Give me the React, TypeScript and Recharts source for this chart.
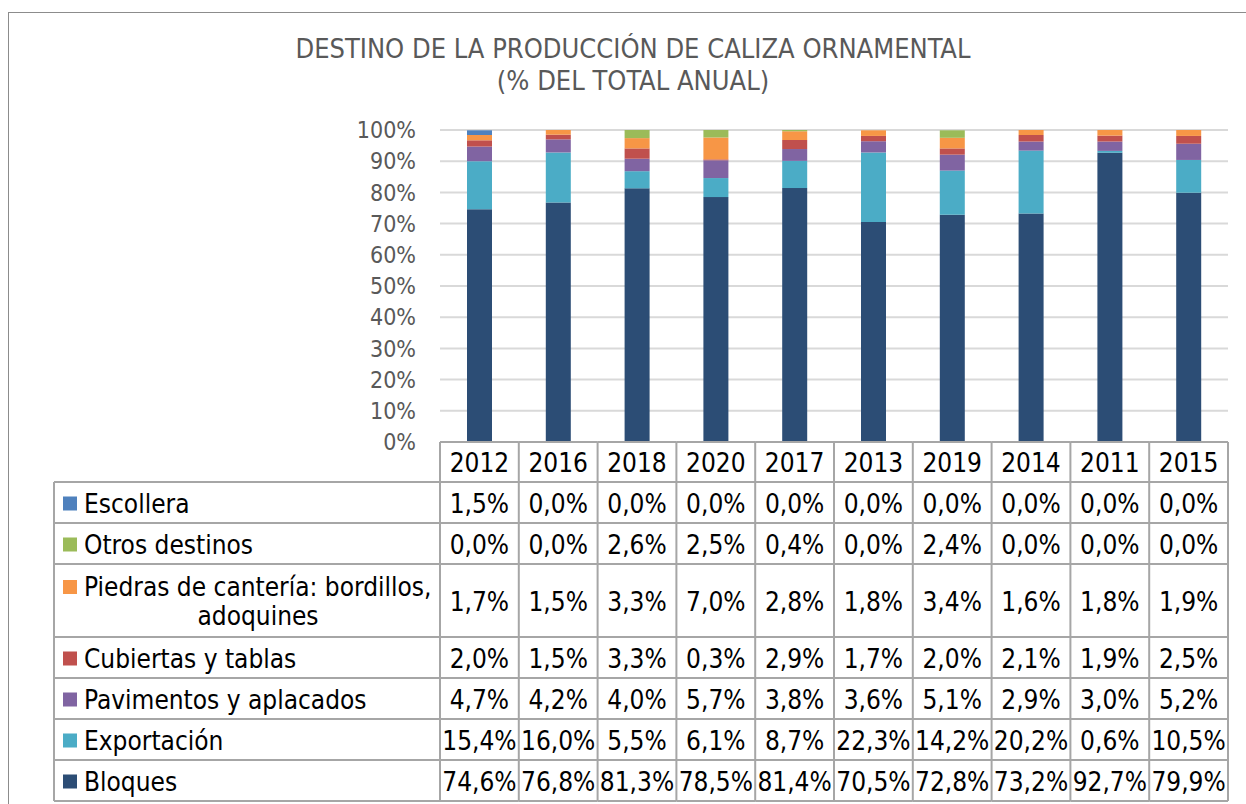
import React from 'react';
import { BarChart, Bar, XAxis, YAxis, CartesianGrid } from 'recharts';

const years = ['2012', '2016', '2018', '2020', '2017', '2013', '2019', '2014', '2011', '2015'];
const bloques = [74.6, 76.8, 81.3, 78.5, 81.4, 70.5, 72.8, 73.2, 92.7, 79.9];
const exportacion = [15.4, 16.0, 5.5, 6.1, 8.7, 22.3, 14.2, 20.2, 0.6, 10.5];
const pavimentos = [4.7, 4.2, 4.0, 5.7, 3.8, 3.6, 5.1, 2.9, 3.0, 5.2];
const cubiertas = [2.0, 1.5, 3.3, 0.3, 2.9, 1.7, 2.0, 2.1, 1.9, 2.5];
const piedras = [1.7, 1.5, 3.3, 7.0, 2.8, 1.8, 3.4, 1.6, 1.8, 1.9];
const otros = [0.0, 0.0, 2.6, 2.5, 0.4, 0.0, 2.4, 0.0, 0.0, 0.0];
const escollera = [1.5, 0.0, 0.0, 0.0, 0.0, 0.0, 0.0, 0.0, 0.0, 0.0];
const yTicks = [0, 10, 20, 30, 40, 50, 60, 70, 80, 90, 100];

// stack order, bottom to top
const series = [
  { key: 'bloques', name: 'Bloques', color: '#2c4d75', values: bloques },
  { key: 'exportacion', name: 'Exportación', color: '#4bacc6', values: exportacion },
  { key: 'pavimentos', name: 'Pavimentos y aplacados', color: '#8064a2', values: pavimentos },
  { key: 'cubiertas', name: 'Cubiertas y tablas', color: '#c0504d', values: cubiertas },
  { key: 'piedras', name: ['Piedras de cantería: bordillos,', 'adoquines'], color: '#f79646', values: piedras },
  { key: 'otros', name: 'Otros destinos', color: '#9bbb59', values: otros },
  { key: 'escollera', name: 'Escollera', color: '#4f81bd', values: escollera },
];

const data = years.map((year, i) => {
  const row: any = { year };
  series.forEach((s) => { row[s.key] = s.values[i]; });
  return row;
});

const FONT = '"DejaVu Sans Condensed", "Liberation Sans Narrow", "DejaVu Sans", sans-serif';
const W = 1246;
const H = 804;
const PLOT_LEFT = 440;
const PLOT_RIGHT = 1228;
const PLOT_TOP = 130;
const AXIS_TOP = 442;
const COL_W = (PLOT_RIGHT - PLOT_LEFT) / years.length;
const LEGEND_LEFT = 54;
const HEADER_H = 40;
const ROW_H = [41, 41, 73, 41, 41, 41, 41];
const LINE = '#a6a6a6';
const TFS = 26;

const tableRows = [...series].reverse();
const fmt = (v: number) => v.toFixed(1).replace('.', ',') + '%';

function TableColumn(props: any) {
  const { x, y, payload, index } = props;
  const left = x - COL_W / 2;
  const right = x + COL_W / 2;
  const tops: number[] = [];
  let acc = HEADER_H;
  ROW_H.forEach((h) => { tops.push(acc); acc += h; });
  const bottom = acc;
  const els: React.ReactNode[] = [];

  // header cell
  els.push(<line key="h0" x1={left} x2={right} y1={y} y2={y} stroke={LINE} strokeWidth={2} />);
  els.push(
    <text key="yr" x={x} y={y + HEADER_H / 2 + 1} textAnchor="middle" dominantBaseline="central"
      fontSize={TFS} fill="#000" fontFamily={FONT}>{payload.value}</text>
  );
  els.push(<line key="vl" x1={left} x2={left} y1={y} y2={y + bottom} stroke={LINE} strokeWidth={2} />);
  if (index === years.length - 1) {
    els.push(<line key="vr" x1={right} x2={right} y1={y} y2={y + bottom} stroke={LINE} strokeWidth={2} />);
  }
  tableRows.forEach((s, r) => {
    const t = y + tops[r];
    els.push(<line key={'hl' + r} x1={left} x2={right} y1={t} y2={t} stroke={LINE} strokeWidth={2} />);
    els.push(
      <text key={'v' + r} x={x} y={t + ROW_H[r] / 2 + 1} textAnchor="middle" dominantBaseline="central"
        fontSize={TFS} fill="#000" fontFamily={FONT}>{fmt(s.values[index])}</text>
    );
  });
  els.push(<line key="hb" x1={left} x2={right} y1={y + bottom} y2={y + bottom} stroke={LINE} strokeWidth={2} />);

  // legend column next to the first data column
  if (index === 0) {
    const lx = LEGEND_LEFT;
    els.push(<line key="lvl" x1={lx} x2={lx} y1={y + HEADER_H} y2={y + bottom} stroke={LINE} strokeWidth={2} />);
    tableRows.forEach((s, r) => {
      const t = y + tops[r];
      const mid = t + ROW_H[r] / 2 + 1;
      els.push(<line key={'lhl' + r} x1={lx} x2={left} y1={t} y2={t} stroke={LINE} strokeWidth={2} />);
      els.push(<rect key={'sq' + r} x={63} y={Array.isArray(s.name) ? t + 16 : mid - 7} width={14} height={14} fill={s.color} />);
      if (Array.isArray(s.name)) {
        els.push(
          <text key={'ln' + r} x={84} y={t + 23} dominantBaseline="central" fontSize={TFS} fill="#000" fontFamily={FONT}>{s.name[0]}</text>
        );
        els.push(
          <text key={'ln2' + r} x={258} y={t + 52} textAnchor="middle" dominantBaseline="central" fontSize={TFS} fill="#000" fontFamily={FONT}>{s.name[1]}</text>
        );
      } else {
        els.push(
          <text key={'ln' + r} x={84} y={mid} dominantBaseline="central" fontSize={TFS} fill="#000" fontFamily={FONT}>{s.name}</text>
        );
      }
    });
    els.push(<line key="lhb" x1={lx} x2={left} y1={y + bottom} y2={y + bottom} stroke={LINE} strokeWidth={2} />);
  }
  return <g>{els}</g>;
}

export default function App() {
  return (
    <div style={{ position: 'fixed', left: 0, top: 0, width: W, height: H, overflow: 'hidden', background: '#fff', fontFamily: FONT }}>
      <div style={{ position: 'absolute', left: 8, top: 12, width: 1400, height: 1000, borderLeft: '1px solid #8c8c8c', borderTop: '1px solid #8c8c8c' }} />
      <div style={{ position: 'absolute', left: 0, top: 33, width: 1266, textAlign: 'center', color: '#595959', fontSize: 27, lineHeight: '32px' }}>
        <div>DESTINO DE LA PRODUCCIÓN DE CALIZA ORNAMENTAL</div>
        <div>(% DEL TOTAL ANUAL)</div>
      </div>
      <div style={{ position: 'absolute', left: 0, top: 0 }}>
        <BarChart width={W} height={H} data={data} barSize={25}
          margin={{ top: PLOT_TOP, right: W - PLOT_RIGHT, left: 0, bottom: H - AXIS_TOP - 360 }}>
          <CartesianGrid vertical={false} stroke="#d9d9d9" strokeWidth={2} />
          <YAxis type="number" domain={[0, 100]} ticks={yTicks} allowDataOverflow width={PLOT_LEFT}
            axisLine={false} tickLine={false} tickSize={0} tickMargin={24}
            tickFormatter={(v: number) => v + '%'}
            tick={{ fontSize: 23, fill: '#595959', fontFamily: FONT }} />
          <XAxis dataKey="year" height={360} interval={0} axisLine={false} tickLine={false}
            tickSize={0} tickMargin={0} tick={<TableColumn />} />
          {series.map((s) => (
            <Bar key={s.key} dataKey={s.key} stackId="a" fill={s.color} isAnimationActive={false} />
          ))}
        </BarChart>
      </div>
    </div>
  );
}
